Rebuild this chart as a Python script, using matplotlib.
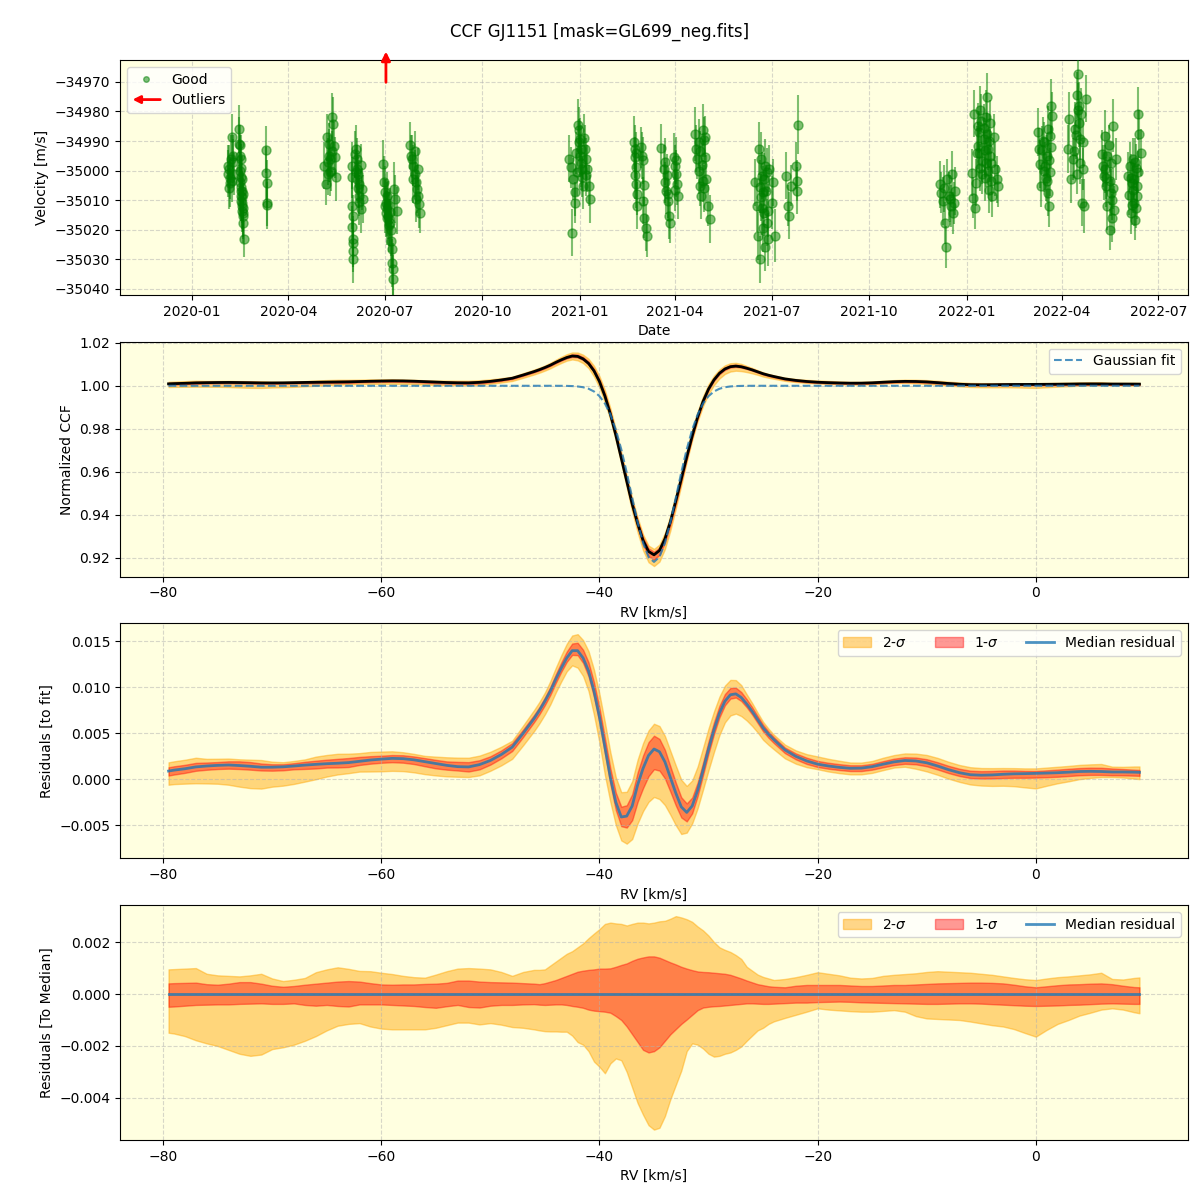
import numpy as np
import pandas as pd
import matplotlib
matplotlib.use("Agg")
import matplotlib.pyplot as plt
import matplotlib.dates as mdates
from matplotlib.ticker import MultipleLocator, ScalarFormatter
from matplotlib.lines import Line2D
from matplotlib.patches import FancyArrowPatch
from matplotlib.legend_handler import HandlerPatch

# ---------------- top panel: RV time series ----------------
obs_dates = (
    ["2020-02-04", "2020-02-04", "2020-02-05", "2020-02-06", "2020-02-08", "2020-02-09", "2020-02-09", "2020-02-10"]
    + ["2020-02-14", "2020-02-14", "2020-02-15", "2020-02-15", "2020-02-15", "2020-02-16", "2020-02-16", "2020-02-16",
       "2020-02-17", "2020-02-17", "2020-02-17", "2020-02-18", "2020-02-18", "2020-02-18", "2020-02-19", "2020-02-15", "2020-02-16"]
    + ["2020-03-11", "2020-03-11", "2020-03-12", "2020-03-12", "2020-03-12"]
    + ["2020-05-05", "2020-05-06", "2020-05-07", "2020-05-08", "2020-05-09", "2020-05-10", "2020-05-11", "2020-05-12",
       "2020-05-13", "2020-05-14", "2020-05-15", "2020-05-16"]
    + ["2020-05-31", "2020-05-31", "2020-05-31", "2020-06-01", "2020-06-01", "2020-06-01", "2020-06-01", "2020-06-04",
       "2020-06-05", "2020-06-05", "2020-06-06", "2020-06-07", "2020-06-07", "2020-06-08", "2020-06-09", "2020-06-10"]
    + ["2020-06-29", "2020-06-30", "2020-07-01", "2020-07-02", "2020-07-03", "2020-07-04", "2020-07-05", "2020-07-06",
       "2020-07-07", "2020-07-08", "2020-07-08", "2020-07-09", "2020-07-09", "2020-07-10", "2020-07-11", "2020-07-12"]
    + ["2020-07-25", "2020-07-26", "2020-07-27", "2020-07-28", "2020-07-29", "2020-07-30", "2020-07-31", "2020-08-01",
       "2020-08-02", "2020-08-03"]
    + ["2020-12-22", "2020-12-24", "2020-12-25", "2020-12-26", "2020-12-27", "2020-12-27", "2020-12-30", "2020-12-31",
       "2021-01-01", "2021-01-02", "2021-01-03", "2021-01-04", "2021-01-06", "2021-01-07", "2021-01-08", "2021-01-10", "2021-01-11"]
    + ["2021-02-21", "2021-02-22", "2021-02-22", "2021-02-23", "2021-02-23", "2021-02-24", "2021-02-24", "2021-02-28",
       "2021-03-01", "2021-03-02", "2021-03-03", "2021-03-04", "2021-03-05"]
    + ["2021-03-19", "2021-03-21", "2021-03-22", "2021-03-23", "2021-03-25", "2021-03-26", "2021-03-27", "2021-03-31",
       "2021-04-01", "2021-04-02", "2021-04-03", "2021-04-04"]
    + ["2021-04-20", "2021-04-21", "2021-04-22", "2021-04-23", "2021-04-24", "2021-04-25", "2021-04-27", "2021-04-28",
       "2021-04-29", "2021-04-30", "2021-05-02", "2021-05-04"]
    + ["2021-06-15", "2021-06-17", "2021-06-18", "2021-06-19", "2021-06-20", "2021-06-21", "2021-06-22", "2021-06-23",
       "2021-06-24", "2021-06-25", "2021-06-27", "2021-06-28", "2021-06-29", "2021-07-01", "2021-07-02", "2021-07-04"]
    + ["2021-07-15", "2021-07-16", "2021-07-17", "2021-07-19", "2021-07-24", "2021-07-25", "2021-07-25", "2021-07-26"]
    + ["2021-12-07", "2021-12-08", "2021-12-10", "2021-12-12", "2021-12-13", "2021-12-15", "2021-12-17", "2021-12-18",
       "2021-12-19", "2021-12-21"]
    + ["2022-01-06", "2022-01-07", "2022-01-08", "2022-01-09", "2022-01-10", "2022-01-11", "2022-01-12", "2022-01-13",
       "2022-01-14", "2022-01-15", "2022-01-16", "2022-01-17", "2022-01-18", "2022-01-19", "2022-01-20", "2022-01-21",
       "2022-01-22", "2022-01-23", "2022-01-24", "2022-01-25", "2022-01-27", "2022-01-28", "2022-01-30", "2022-01-31"]
    + ["2022-03-09", "2022-03-10", "2022-03-11", "2022-03-12", "2022-03-14", "2022-03-15", "2022-03-17", "2022-03-18",
       "2022-03-19", "2022-03-20", "2022-03-21", "2022-03-22", "2022-03-23"]
    + ["2022-04-07", "2022-04-08", "2022-04-10", "2022-04-11", "2022-04-13", "2022-04-15", "2022-04-16", "2022-04-17",
       "2022-04-18", "2022-04-20", "2022-04-21", "2022-04-22", "2022-04-24"]
    + ["2022-05-09", "2022-05-10", "2022-05-11", "2022-05-12", "2022-05-13", "2022-05-14", "2022-05-16", "2022-05-17",
       "2022-05-18", "2022-05-19", "2022-05-20", "2022-05-22"]
    + ["2022-06-02", "2022-06-03", "2022-06-04", "2022-06-05", "2022-06-06", "2022-06-07", "2022-06-08", "2022-06-09",
       "2022-06-10", "2022-06-11", "2022-06-12", "2022-06-13", "2022-06-15"]
)

rv_ms = (
    [-34998.3, -35001.0, -35006.0, -35004.2, -34988.7, -34994.9, -34997.2, -35001.1]
    + [-34985.9, -34991.0, -34995.0, -35000.0, -35004.0, -35006.8, -35008.5, -35010.2,
       -35011.9, -35013.6, -35009.0, -35015.3, -35017.6, -35012.5, -35023.2, -34991.5, -34996.0]
    + [-34992.9, -35000.9, -35004.3, -35010.8, -35011.7]
    + [-34998.3, -35004.5, -34988.7, -35001.1, -34994.9, -34996.0, -35000.0, -34981.9,
       -34984.2, -34991.7, -34995.5, -35002.3]
    + [-34998.3, -35002.3, -35011.9, -35015.3, -35023.2, -35027.2, -35030.0, -34992.6,
       -34996.0, -34999.4, -35001.1, -35004.5, -35008.5, -35013.0, -35006.2, -35009.6]
    + [-34997.7, -35004.0, -35007.4, -35010.8, -35013.0, -35015.3, -35016.4, -35017.6,
       -35023.8, -35026.6, -35031.2, -35033.4, -35036.6, -35006.2, -35009.6, -35013.5]
    + [-34991.5, -34994.9, -34996.0, -34998.3, -35001.1, -35004.0, -35006.2, -35008.5,
       -35011.3, -35014.2]
    + [-34996.0, -34998.9, -35021.0, -35002.8, -35007.4, -35010.8, -34984.7, -34986.4,
       -34989.3, -34992.7, -34999.4, -35005.1, -34992.7, -34996.0, -34999.4, -35005.1, -35009.6]
    + [-34990.4, -34992.6, -34995.5, -34998.9, -35004.5, -35007.9, -35011.9, -34992.1,
       -34994.9, -35010.2, -35015.9, -35019.3, -35022.1]
    + [-34992.4, -34999.4, -35004.0, -35006.8, -35010.2, -35015.3, -35017.6, -34995.3,
       -34998.3, -35001.1, -35004.5, -35008.5]
    + [-34987.6, -34992.6, -34996.0, -35000.0, -35005.1, -35008.5, -34986.4, -34989.8,
       -34995.5, -35002.8, -35011.9, -35016.4]
    + [-35004.0, -35011.9, -35022.1, -34992.6, -35030.0, -34996.0, -35001.7, -35007.4,
       -35014.2, -34998.3, -35017.6, -35023.2, -34999.4, -35010.8, -35004.0, -35022.0]
    + [-35001.7, -35011.9, -35015.3, -35005.1, -34998.3, -35003.4, -35006.8, -34984.5]
    + [-35004.7, -35007.5, -35010.3, -35017.7, -35025.9, -35008.6, -35012.0, -35001.3,
       -35014.3, -35006.9]
    + [-35000.7, -35009.2, -34980.8, -35012.6, -35004.1, -34993.9, -34991.6, -34987.0,
       -34999.0, -34983.1, -34996.7, -34989.3, -35002.4, -34981.9, -34975.1, -34992.7,
       -35006.4, -34995.0, -34997.3, -35008.6, -34988.8, -34999.5, -35003.0, -35005.2]
    + [-34987.0, -34992.7, -34997.8, -35005.2, -34989.9, -35000.1, -35002.4, -34995.0,
       -35007.5, -35012.0, -34988.2, -34978.0, -34981.4]
    + [-34992.7, -34982.5, -35003.0, -34996.1, -34985.9, -34974.5, -34967.2, -34978.0,
       -34989.3, -35010.9, -34999.5, -35012.0, -34975.7]
    + [-34994.4, -34998.4, -35001.8, -34988.4, -35005.2, -34995.0, -35020.0, -35007.5,
       -35009.8, -34984.8, -35013.2, -34996.1]
    + [-35001.8, -35008.1, -34998.4, -35014.3, -35004.1, -34996.1, -35010.9, -35016.6,
       -34999.0, -35005.2, -34980.8, -34987.6, -34993.9]
)

rv_err = (
    [7, 8, 7, 8, 8, 7, 8, 7]
    + [8, 9, 7, 7, 8, 7, 8, 7, 8, 7, 8, 8, 7, 8, 6, 7, 8]
    + [8, 9, 8, 8, 8]
    + [8, 7, 8, 7, 9, 8, 7, 8, 9, 8, 7, 8]
    + [8, 7, 8, 7, 8, 7, 8, 8, 7, 8, 7, 8, 7, 8, 7, 8]
    + [8, 9, 9, 8, 9, 8, 9, 8, 9, 8, 8, 9, 8, 9, 8, 8]
    + [8, 7, 8, 7, 8, 7, 8, 7, 8, 7]
    + [8, 7, 8, 7, 8, 7, 9, 8, 7, 8, 7, 8, 8, 7, 8, 7, 8]
    + [9, 8, 7, 8, 8, 7, 8, 7, 8, 8, 7, 8, 7]
    + [8, 8, 7, 8, 7, 8, 7, 8, 7, 8, 7, 8]
    + [9, 8, 7, 8, 7, 8, 9, 8, 7, 8, 7, 8]
    + [8, 9, 8, 9, 8, 9, 8, 9, 8, 9, 8, 9, 8, 9, 8, 9]
    + [8, 7, 8, 7, 8, 7, 8, 10]
    + [8, 7, 8, 7, 7, 8, 7, 8, 7, 8]
    + [8, 7, 8, 7, 8, 9, 8, 7, 8, 9, 8, 7, 8, 9, 8, 7, 8, 9, 8, 7, 8, 9, 8, 7]
    + [8, 7, 8, 7, 8, 7, 8, 7, 8, 7, 8, 9, 8]
    + [8, 9, 8, 7, 9, 8, 9, 8, 7, 8, 7, 9, 8]
    + [8, 7, 8, 9, 7, 8, 7, 8, 7, 9, 8, 7]
    + [8, 7, 8, 7, 8, 7, 8, 7, 8, 7, 9, 8, 8]
)

# additional observations (same seasons)
extra_dates = (
    ["2020-02-05", "2020-02-06", "2020-02-07", "2020-02-08"]
    + ["2020-02-16", "2020-02-16", "2020-02-17", "2020-02-17", "2020-02-17", "2020-02-18", "2020-02-18", "2020-02-16"]
    + ["2020-05-08", "2020-05-09", "2020-05-10", "2020-05-12"]
    + ["2020-06-03", "2020-06-04", "2020-06-05", "2020-06-06", "2020-06-07", "2020-06-08", "2020-06-01", "2020-05-31"]
    + ["2020-07-01", "2020-07-02", "2020-07-03", "2020-07-04", "2020-07-05", "2020-07-06", "2020-07-07", "2020-07-03"]
    + ["2020-07-28", "2020-07-29", "2020-07-30", "2020-08-01"]
    + ["2020-12-31", "2021-01-01", "2021-01-02", "2021-01-03", "2021-01-05", "2021-01-07", "2020-12-29", "2020-12-28"]
    + ["2021-02-22", "2021-02-23", "2021-03-02", "2021-03-03"]
    + ["2021-03-22", "2021-03-24", "2021-03-25", "2021-04-01", "2021-04-02"]
    + ["2021-04-23", "2021-04-24", "2021-04-26", "2021-04-27", "2021-04-28", "2021-04-29"]
    + ["2021-06-20", "2021-06-21", "2021-06-22", "2021-06-23", "2021-06-24", "2021-06-25", "2021-06-26", "2021-06-27", "2021-06-28"]
    + ["2021-12-11", "2021-12-14", "2021-12-16", "2021-12-20"]
    + ["2022-01-12", "2022-01-13", "2022-01-14", "2022-01-16", "2022-01-17", "2022-01-18", "2022-01-19", "2022-01-20",
       "2022-01-21", "2022-01-22", "2022-01-23", "2022-01-24"]
    + ["2022-03-13", "2022-03-15", "2022-03-16", "2022-03-18", "2022-03-19", "2022-03-20", "2022-03-21", "2022-03-22"]
    + ["2022-04-12", "2022-04-14", "2022-04-15", "2022-04-16", "2022-04-17", "2022-04-18", "2022-04-19", "2022-04-21"]
    + ["2022-05-12", "2022-05-13", "2022-05-14", "2022-05-15", "2022-05-16", "2022-05-17", "2022-05-18", "2022-05-19"]
    + ["2022-06-05", "2022-06-06", "2022-06-07", "2022-06-08", "2022-06-09", "2022-06-10", "2022-06-11", "2022-06-12"]
)
extra_rv = (
    [-34999.5, -35002.5, -34996.0, -35003.5]
    + [-35002.0, -35005.5, -35007.0, -35003.0, -35010.8, -35014.5, -35007.8, -34999.0]
    + [-34997.0, -34991.0, -35000.5, -34993.5]
    + [-34994.5, -35000.5, -35003.0, -35005.8, -35010.5, -34998.0, -35024.5, -35019.0]
    + [-35012.0, -35014.5, -35016.0, -35011.5, -35018.5, -35014.0, -35020.0, -35008.5]
    + [-35003.0, -34993.5, -35009.5, -34999.5]
    + [-34990.5, -34995.0, -34997.5, -35002.0, -34989.0, -35001.5, -35000.5, -34994.0]
    + [-35001.5, -34994.0, -34996.5, -35005.0]
    + [-34997.0, -35001.5, -35008.0, -35006.5, -34996.5]
    + [-34990.5, -34993.5, -34998.0, -35003.5, -35006.0, -34988.5]
    + [-35005.5, -35009.0, -35012.8, -35019.5, -35003.0, -35026.0, -35007.0, -35000.5, -35013.5]
    + [-35006.0, -35003.0, -35009.5, -35011.0]
    + [-34985.0, -34994.0, -34979.5, -35001.0, -34985.5, -34993.0, -34997.5, -34987.5,
       -35000.0, -34990.0, -34984.0, -35003.5]
    + [-34993.0, -34990.5, -34998.5, -35003.5, -34986.0, -34996.5, -35000.5, -34992.0]
    + [-34993.5, -34988.0, -35001.0, -34979.5, -34984.0, -34997.5, -34981.0, -34990.5]
    + [-34999.5, -35002.5, -35012.0, -34991.5, -35003.5, -34997.5, -35016.0, -35006.0]
    + [-35002.5, -35011.5, -35006.5, -35003.0, -34997.0, -35012.5, -35008.5, -35000.5]
)
extra_err = (
    [8, 7, 8, 7]
    + [7, 8, 7, 8, 7, 8, 7, 8]
    + [8, 7, 8, 7]
    + [8, 7, 8, 7, 8, 7, 8, 7]
    + [9, 8, 9, 8, 9, 8, 9, 8]
    + [8, 7, 8, 7]
    + [8, 7, 8, 7, 8, 7, 8, 7]
    + [8, 7, 8, 7]
    + [8, 7, 8, 7, 8]
    + [8, 7, 8, 7, 8, 7]
    + [9, 8, 9, 8, 9, 8, 9, 8, 9]
    + [8, 7, 8, 7]
    + [8, 9, 8, 7, 8, 9, 8, 7, 8, 9, 8, 7]
    + [8, 7, 8, 7, 8, 7, 8, 7]
    + [9, 8, 7, 9, 8, 7, 9, 8]
    + [8, 7, 8, 7, 8, 7, 8, 7]
    + [8, 7, 8, 7, 8, 7, 8, 7]
)

outlier_dates = ["2020-07-02"]

# ---------------- CCF panels ----------------
rv_kms = np.concatenate([[-79.5], np.arange(-79, -46, 1.0), np.arange(-46, -24, 0.5),
                         np.arange(-24, 10, 1.0), [9.5]])

# Gaussian fit parameters
fit_cont = 1.0
fit_depth = 0.082
fit_center = -35.0
fit_sigma = 2.1

# median residual (units 1e-3)
median_res = [
    0.9, 1.0, 1.15, 1.35, 1.45, 1.52, 1.56, 1.5, 1.42, 1.32,
    1.32, 1.36, 1.45, 1.55, 1.63, 1.7, 1.75, 1.82, 1.96, 2.1,
    2.2, 2.28, 2.25, 2.12, 1.92, 1.72, 1.52, 1.38, 1.35, 1.6,
    2.05, 2.7, 3.5, 5.0,
    6.6, 7.5, 8.5, 9.6, 10.9, 12.1, 13.2, 14.0, 14.0, 13.2,
    11.8, 9.6, 6.8, 3.5, 0.2, -2.5, -4.1, -4.0, -2.9, -0.6,
    1.2, 2.6, 3.3, 3.0, 1.9, 0.2, -1.5, -3.0, -3.6, -2.9,
    -1.2, 1.0, 3.3, 5.4, 7.2, 8.5, 9.2, 9.3, 8.9, 8.2,
    7.4, 6.5, 5.6, 4.9,
    4.3, 3.2, 2.5, 2.0, 1.65, 1.45, 1.3, 1.2, 1.22, 1.38,
    1.65, 1.9, 2.05, 2.0, 1.8, 1.45, 1.05, 0.72, 0.5, 0.45,
    0.48, 0.55, 0.6, 0.62, 0.65, 0.68, 0.72, 0.78, 0.85, 0.87,
    0.85, 0.8, 0.8, 0.78, 0.76,
]

# band offsets relative to the median (units 1e-3)
band_hi2 = [
    0.95, 0.96, 0.98, 1.0, 0.78, 0.72, 0.7, 0.68, 0.72, 0.78,
    0.6, 0.5, 0.55, 0.62, 0.84, 0.95, 1.03, 0.97, 0.89, 0.88,
    0.82, 0.77, 0.7, 0.65, 0.63, 0.75, 0.88, 0.98, 1.0, 0.98,
    0.95, 0.85, 0.7, 0.85,
    0.93, 0.93, 0.95, 1.1, 1.25, 1.4, 1.55, 1.65, 1.8, 1.95,
    2.15, 2.33, 2.5, 2.7, 2.75, 2.72, 2.7, 2.64, 2.7, 2.75,
    2.75, 2.72, 2.75, 2.8, 2.82, 2.9, 3.0, 2.95, 2.88, 2.78,
    2.6, 2.45, 2.25, 2.0, 1.8, 1.7, 1.62, 1.5, 1.35, 1.05,
    0.9, 0.75, 0.66, 0.6,
    0.54, 0.58, 0.65, 0.74, 0.84, 0.78, 0.72, 0.63, 0.6, 0.62,
    0.7, 0.74, 0.77, 0.8, 0.85, 0.88, 0.86, 0.84, 0.82, 0.78,
    0.74, 0.68, 0.62, 0.57, 0.54, 0.6, 0.65, 0.68, 0.72, 0.76,
    0.82, 0.58, 0.56, 0.62, 0.64,
]
band_hi1 = [
    0.41, 0.42, 0.43, 0.44, 0.38, 0.36, 0.4, 0.46, 0.46, 0.4,
    0.32, 0.28, 0.31, 0.36, 0.4, 0.44, 0.48, 0.5, 0.48, 0.42,
    0.37, 0.36, 0.37, 0.37, 0.39, 0.4, 0.43, 0.52, 0.52, 0.48,
    0.46, 0.45, 0.44, 0.42,
    0.4, 0.38, 0.42, 0.48, 0.54, 0.62, 0.7, 0.78, 0.86, 0.9,
    0.93, 0.95, 0.98, 0.98, 0.99, 1.05, 1.12, 1.18, 1.28, 1.36,
    1.41, 1.45, 1.45, 1.4, 1.31, 1.22, 1.14, 1.05, 0.98, 0.92,
    0.87, 0.85, 0.84, 0.82, 0.8, 0.78, 0.74, 0.67, 0.6, 0.52,
    0.45, 0.38, 0.34, 0.3,
    0.28, 0.26, 0.32, 0.35, 0.35, 0.35, 0.35, 0.33, 0.31, 0.31,
    0.33, 0.35, 0.35, 0.37, 0.39, 0.41, 0.42, 0.43, 0.44, 0.44,
    0.43, 0.41, 0.36, 0.3, 0.26, 0.3, 0.34, 0.37, 0.38, 0.4,
    0.41, 0.38, 0.32, 0.27, 0.26,
]
band_lo1 = [
    -0.49, -0.48, -0.45, -0.42, -0.41, -0.4, -0.4, -0.38, -0.37, -0.36,
    -0.38, -0.38, -0.36, -0.42, -0.45, -0.42, -0.46, -0.48, -0.4, -0.4,
    -0.4, -0.42, -0.44, -0.46, -0.5, -0.53, -0.47, -0.42, -0.5, -0.52,
    -0.45, -0.42, -0.42, -0.4,
    -0.39, -0.41, -0.42, -0.41, -0.4, -0.4, -0.42, -0.46, -0.49, -0.53,
    -0.6, -0.64, -0.66, -0.68, -0.72, -0.85, -1.0, -1.25, -1.55, -1.85,
    -2.15, -2.25, -2.2, -2.05, -1.8, -1.55, -1.35, -1.15, -0.98, -0.8,
    -0.62, -0.52, -0.49, -0.47, -0.46, -0.44, -0.42, -0.4, -0.38, -0.36,
    -0.36, -0.37, -0.38, -0.38,
    -0.37, -0.35, -0.33, -0.33, -0.31, -0.3, -0.29, -0.3, -0.32, -0.33,
    -0.34, -0.35, -0.36, -0.37, -0.38, -0.38, -0.37, -0.36, -0.36, -0.37,
    -0.39, -0.41, -0.43, -0.45, -0.46, -0.45, -0.44, -0.42, -0.41, -0.39,
    -0.37, -0.36, -0.37, -0.38, -0.38,
]
band_lo2 = [
    -1.49, -1.52, -1.62, -1.78, -1.9, -2.0, -2.15, -2.3, -2.38, -2.33,
    -2.12, -2.05, -1.95, -1.8, -1.62, -1.4, -1.22, -1.15, -1.12, -1.25,
    -1.33, -1.36, -1.36, -1.36, -1.36, -1.3, -1.2, -1.1, -1.1, -1.17,
    -1.12, -1.18, -1.27, -1.3,
    -1.36, -1.4, -1.43, -1.44, -1.44, -1.45, -1.45, -1.6, -1.85, -1.95,
    -2.2, -2.6, -2.8, -3.05, -2.67, -2.48, -2.55, -3.0, -3.6, -4.2,
    -4.65, -5.05, -5.22, -5.15, -4.7, -4.05, -3.5, -2.95, -2.2, -1.9,
    -1.95, -2.1, -2.3, -2.41, -2.38, -2.3, -2.25, -2.15, -2.02, -1.8,
    -1.6, -1.4, -1.3, -1.15,
    -1.05, -0.92, -0.8, -0.68, -0.55, -0.6, -0.63, -0.66, -0.68, -0.68,
    -0.65, -0.62, -0.68, -0.85, -0.94, -0.96, -0.98, -1.0, -1.06, -1.13,
    -1.2, -1.25, -1.35, -1.5, -1.64, -1.38, -1.15, -1.0, -0.83, -0.72,
    -0.6, -0.55, -0.6, -0.7, -0.74,
]

n = len(rv_kms)
for name, arr in [("median_res", median_res), ("band_hi2", band_hi2), ("band_hi1", band_hi1),
                  ("band_lo1", band_lo1), ("band_lo2", band_lo2)]:
    if len(arr) != n:
        raise ValueError(f"{name} has {len(arr)} values, expected {n}")
if not (len(obs_dates) == len(rv_ms) == len(rv_err)):
    raise ValueError(f"lengths {len(obs_dates)} {len(rv_ms)} {len(rv_err)}")
if not (len(extra_dates) == len(extra_rv) == len(extra_err)):
    raise ValueError(f"extra lengths {len(extra_dates)} {len(extra_rv)} {len(extra_err)}")

# ---------------- derived quantities ----------------
med = np.array(median_res) * 1e-3
hi2 = np.array(band_hi2) * 1e-3
hi1 = np.array(band_hi1) * 1e-3
lo1 = np.array(band_lo1) * 1e-3
lo2 = np.array(band_lo2) * 1e-3
gauss = fit_cont - fit_depth * np.exp(-0.5 * ((rv_kms - fit_center) / fit_sigma) ** 2)
ccf = gauss + med

BG = "lightyellow"
C2S = "orange"
C1S = "red"
A2S = 0.45
A1S = 0.4

fig, axes = plt.subplots(4, 1, figsize=(12, 12), dpi=100)
fig.subplots_adjust(left=0.1, right=0.99, top=0.95, bottom=0.05, hspace=0.2)
fig.suptitle("CCF GJ1151 [mask=GL699_neg.fits]", y=0.981, fontsize=12)

# --- panel 1
ax = axes[0]
ax.set_facecolor(BG)
all_dates = pd.to_datetime(obs_dates + extra_dates)
all_rv = rv_ms + extra_rv
all_err = rv_err + extra_err
ax.errorbar(all_dates, all_rv, yerr=all_err, fmt="o", color="green", alpha=0.5, ms=6.5,
            elinewidth=1.5, capsize=0, zorder=3)
for d in outlier_dates:
    xd = mdates.date2num(pd.Timestamp(d))
    ax.annotate("", xy=(xd, 1.036), xycoords=("data", "axes fraction"),
                xytext=(xd, 0.905), textcoords=("data", "axes fraction"),
                arrowprops=dict(arrowstyle="-|>", color="red", lw=2, mutation_scale=13,
                                shrinkA=0, shrinkB=0),
                annotation_clip=False)
ax.set_xlim(pd.Timestamp("2019-10-25"), pd.Timestamp("2022-07-29"))
ax.set_ylim(-35042.0, -34962.6)
ax.yaxis.set_major_locator(MultipleLocator(10))
ax.yaxis.set_major_formatter(ScalarFormatter(useOffset=False))
ax.xaxis.set_major_locator(mdates.MonthLocator(bymonth=[1, 4, 7, 10]))
ax.xaxis.set_major_formatter(mdates.DateFormatter("%Y-%m"))
ax.set_xlabel("Date")
ax.set_ylabel("Velocity [m/s]")
ax.grid(True, ls="--", alpha=0.5)


class HandlerLeftArrow(HandlerPatch):
    def create_artists(self, legend, orig_handle, xdescent, ydescent, width, height, fontsize, trans):
        y = 0.5 * height - ydescent
        arr = FancyArrowPatch((width - xdescent, y), (-xdescent, y), arrowstyle="-|>",
                              mutation_scale=11, color="red", lw=2, shrinkA=0, shrinkB=0)
        arr.set_transform(trans)
        return [arr]


good_h = Line2D([], [], marker="o", ls="", color="green", alpha=0.5, ms=4, label="Good")
out_h = FancyArrowPatch((0, 0), (1, 0), color="red", label="Outliers")
ax.legend(handles=[good_h, out_h], loc="upper left",
          handler_map={FancyArrowPatch: HandlerLeftArrow()})

# --- panel 2
ax = axes[1]
ax.set_facecolor(BG)
ax.fill_between(rv_kms, ccf + lo2, ccf + hi2, color=C2S, alpha=A2S)
ax.fill_between(rv_kms, ccf + lo1, ccf + hi1, color=C1S, alpha=A1S)
ax.plot(rv_kms, ccf, color="black", lw=2)
ax.plot(rv_kms, gauss, ls="--", color="C0", alpha=0.8, lw=1.5, label="Gaussian fit")
ax.set_ylim(0.9112, 1.0205)
ax.yaxis.set_major_locator(MultipleLocator(0.02))
ax.set_xlabel("RV [km/s]")
ax.set_ylabel("Normalized CCF")
ax.legend(loc="upper right")
ax.grid(True, ls="--", alpha=0.5)

# --- panel 3
ax = axes[2]
ax.set_facecolor(BG)
ax.fill_between(rv_kms, med + lo2, med + hi2, color=C2S, alpha=A2S, label=r"2-$\sigma$")
ax.fill_between(rv_kms, med + lo1, med + hi1, color=C1S, alpha=A1S, label=r"1-$\sigma$")
ax.plot(rv_kms, med, color="C0", lw=2, alpha=0.8, label="Median residual")
ax.set_ylim(-0.00859, 0.01696)
ax.yaxis.set_major_locator(MultipleLocator(0.005))
ax.set_xlabel("RV [km/s]")
ax.set_ylabel("Residuals [to fit]")
ax.legend(loc="upper right", ncol=3)
ax.grid(True, ls="--", alpha=0.5)

# --- panel 4
ax = axes[3]
ax.set_facecolor(BG)
zero = np.zeros_like(med)
ax.fill_between(rv_kms, lo2, hi2, color=C2S, alpha=A2S, label=r"2-$\sigma$")
ax.fill_between(rv_kms, lo1, hi1, color=C1S, alpha=A1S, label=r"1-$\sigma$")
ax.plot(rv_kms, zero, color="C0", lw=2, alpha=0.8, label="Median residual")
ax.set_ylim(-0.00562, 0.00342)
ax.yaxis.set_major_locator(MultipleLocator(0.002))
ax.set_xlabel("RV [km/s]")
ax.set_ylabel("Residuals [To Median]")
ax.legend(loc="upper right", ncol=3)
ax.grid(True, ls="--", alpha=0.5)

for ax in axes[1:]:
    ax.set_xlim(-83.95, 13.95)
    ax.xaxis.set_major_locator(MultipleLocator(20))

fig.savefig("out.png", dpi=100)
